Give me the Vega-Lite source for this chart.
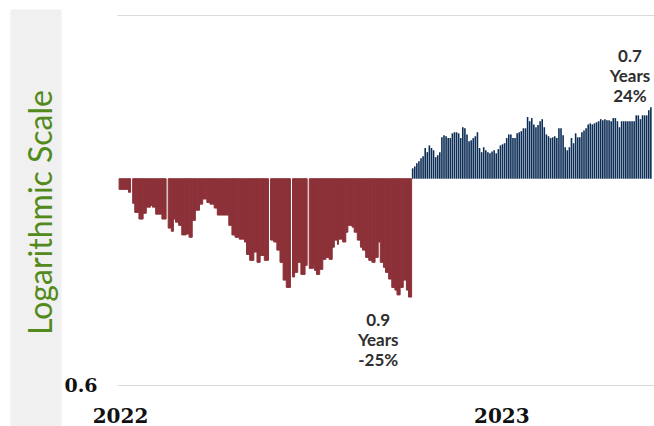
{
  "$schema": "https://vega.github.io/schema/vega-lite/v6.json",
  "width": 537,
  "height": 370,
  "autosize": {"type": "none"},
  "padding": {"left": 117, "top": 15, "right": 0, "bottom": 41},
  "background": "white",
  "config": {"view": {"stroke": null}},
  "datasets": {
    "panel": [{"start": "2021-09-21T00:00", "end": "2021-11-09T00:00", "low": 0.542, "high": 1.521}],
    "bear": [
      {"start": "2022-01-03T00:00", "end": "2022-01-12T00:00", "value": 0.974},
      {"start": "2022-01-12T00:00", "end": "2022-01-14T00:00", "value": 0.967},
      {"start": "2022-01-16T00:00", "end": "2022-01-18T00:00", "value": 0.941},
      {"start": "2022-01-18T00:00", "end": "2022-01-22T00:00", "value": 0.920},
      {"start": "2022-01-22T00:00", "end": "2022-01-26T00:00", "value": 0.905},
      {"start": "2022-01-26T00:00", "end": "2022-01-29T00:00", "value": 0.918},
      {"start": "2022-01-29T00:00", "end": "2022-02-02T00:00", "value": 0.932},
      {"start": "2022-02-02T00:00", "end": "2022-02-04T00:00", "value": 0.936},
      {"start": "2022-02-04T00:00", "end": "2022-02-07T00:00", "value": 0.932},
      {"start": "2022-02-07T00:00", "end": "2022-02-13T00:00", "value": 0.916},
      {"start": "2022-02-13T00:00", "end": "2022-02-17T00:00", "value": 0.905},
      {"start": "2022-02-19T00:00", "end": "2022-02-22T00:00", "value": 0.885},
      {"start": "2022-02-22T00:00", "end": "2022-02-24T00:00", "value": 0.878},
      {"start": "2022-02-24T00:00", "end": "2022-02-26T00:00", "value": 0.905},
      {"start": "2022-02-26T00:00", "end": "2022-03-01T00:00", "value": 0.898},
      {"start": "2022-03-01T00:00", "end": "2022-03-04T00:00", "value": 0.891},
      {"start": "2022-03-04T00:00", "end": "2022-03-08T00:00", "value": 0.870},
      {"start": "2022-03-08T00:00", "end": "2022-03-11T00:00", "value": 0.872},
      {"start": "2022-03-11T00:00", "end": "2022-03-14T00:00", "value": 0.865},
      {"start": "2022-03-14T00:00", "end": "2022-03-17T00:00", "value": 0.902},
      {"start": "2022-03-17T00:00", "end": "2022-03-21T00:00", "value": 0.925},
      {"start": "2022-03-21T00:00", "end": "2022-03-24T00:00", "value": 0.939},
      {"start": "2022-03-24T00:00", "end": "2022-03-28T00:00", "value": 0.951},
      {"start": "2022-03-28T00:00", "end": "2022-03-31T00:00", "value": 0.943},
      {"start": "2022-03-31T00:00", "end": "2022-04-04T00:00", "value": 0.939},
      {"start": "2022-04-04T00:00", "end": "2022-04-07T00:00", "value": 0.930},
      {"start": "2022-04-07T00:00", "end": "2022-04-18T00:00", "value": 0.914},
      {"start": "2022-04-18T00:00", "end": "2022-04-21T00:00", "value": 0.891},
      {"start": "2022-04-21T00:00", "end": "2022-04-24T00:00", "value": 0.870},
      {"start": "2022-04-24T00:00", "end": "2022-04-28T00:00", "value": 0.865},
      {"start": "2022-04-28T00:00", "end": "2022-05-03T00:00", "value": 0.861},
      {"start": "2022-05-03T00:00", "end": "2022-05-05T00:00", "value": 0.855},
      {"start": "2022-05-05T00:00", "end": "2022-05-08T00:00", "value": 0.829},
      {"start": "2022-05-08T00:00", "end": "2022-05-12T00:00", "value": 0.817},
      {"start": "2022-05-12T00:00", "end": "2022-05-15T00:00", "value": 0.834},
      {"start": "2022-05-15T00:00", "end": "2022-05-18T00:00", "value": 0.813},
      {"start": "2022-05-18T00:00", "end": "2022-05-22T00:00", "value": 0.827},
      {"start": "2022-05-22T00:00", "end": "2022-05-26T00:00", "value": 0.817},
      {"start": "2022-05-28T00:00", "end": "2022-05-31T00:00", "value": 0.859},
      {"start": "2022-05-31T00:00", "end": "2022-06-03T00:00", "value": 0.855},
      {"start": "2022-06-03T00:00", "end": "2022-06-06T00:00", "value": 0.838},
      {"start": "2022-06-06T00:00", "end": "2022-06-09T00:00", "value": 0.813},
      {"start": "2022-06-09T00:00", "end": "2022-06-12T00:00", "value": 0.778},
      {"start": "2022-06-12T00:00", "end": "2022-06-16T00:00", "value": 0.764},
      {"start": "2022-06-18T00:00", "end": "2022-06-20T00:00", "value": 0.784},
      {"start": "2022-06-20T00:00", "end": "2022-06-23T00:00", "value": 0.793},
      {"start": "2022-06-23T00:00", "end": "2022-06-26T00:00", "value": 0.813},
      {"start": "2022-06-26T00:00", "end": "2022-06-30T00:00", "value": 0.789},
      {"start": "2022-06-30T00:00", "end": "2022-07-02T00:00", "value": 0.807},
      {"start": "2022-07-04T00:00", "end": "2022-07-08T00:00", "value": 0.801},
      {"start": "2022-07-08T00:00", "end": "2022-07-09T00:00", "value": 0.809},
      {"start": "2022-07-09T00:00", "end": "2022-07-11T00:00", "value": 0.797},
      {"start": "2022-07-11T00:00", "end": "2022-07-14T00:00", "value": 0.789},
      {"start": "2022-07-14T00:00", "end": "2022-07-17T00:00", "value": 0.799},
      {"start": "2022-07-17T00:00", "end": "2022-07-20T00:00", "value": 0.819},
      {"start": "2022-07-20T00:00", "end": "2022-07-23T00:00", "value": 0.823},
      {"start": "2022-07-23T00:00", "end": "2022-07-26T00:00", "value": 0.819},
      {"start": "2022-07-26T00:00", "end": "2022-07-28T00:00", "value": 0.844},
      {"start": "2022-07-28T00:00", "end": "2022-07-31T00:00", "value": 0.859},
      {"start": "2022-07-31T00:00", "end": "2022-08-01T00:00", "value": 0.850},
      {"start": "2022-08-01T00:00", "end": "2022-08-05T00:00", "value": 0.861},
      {"start": "2022-08-05T00:00", "end": "2022-08-08T00:00", "value": 0.855},
      {"start": "2022-08-08T00:00", "end": "2022-08-10T00:00", "value": 0.876},
      {"start": "2022-08-10T00:00", "end": "2022-08-14T00:00", "value": 0.891},
      {"start": "2022-08-14T00:00", "end": "2022-08-16T00:00", "value": 0.887},
      {"start": "2022-08-16T00:00", "end": "2022-08-19T00:00", "value": 0.876},
      {"start": "2022-08-19T00:00", "end": "2022-08-22T00:00", "value": 0.859},
      {"start": "2022-08-22T00:00", "end": "2022-08-24T00:00", "value": 0.844},
      {"start": "2022-08-24T00:00", "end": "2022-08-27T00:00", "value": 0.838},
      {"start": "2022-08-27T00:00", "end": "2022-08-30T00:00", "value": 0.823},
      {"start": "2022-08-30T00:00", "end": "2022-09-02T00:00", "value": 0.817},
      {"start": "2022-09-02T00:00", "end": "2022-09-05T00:00", "value": 0.813},
      {"start": "2022-09-05T00:00", "end": "2022-09-08T00:00", "value": 0.823},
      {"start": "2022-09-08T00:00", "end": "2022-09-10T00:00", "value": 0.855},
      {"start": "2022-09-10T00:00", "end": "2022-09-13T00:00", "value": 0.813},
      {"start": "2022-09-13T00:00", "end": "2022-09-15T00:00", "value": 0.803},
      {"start": "2022-09-15T00:00", "end": "2022-09-18T00:00", "value": 0.793},
      {"start": "2022-09-18T00:00", "end": "2022-09-21T00:00", "value": 0.780},
      {"start": "2022-09-21T00:00", "end": "2022-09-24T00:00", "value": 0.764},
      {"start": "2022-09-24T00:00", "end": "2022-09-26T00:00", "value": 0.759},
      {"start": "2022-09-26T00:00", "end": "2022-09-29T00:00", "value": 0.750},
      {"start": "2022-09-29T00:00", "end": "2022-10-02T00:00", "value": 0.764},
      {"start": "2022-10-02T00:00", "end": "2022-10-05T00:00", "value": 0.778},
      {"start": "2022-10-05T00:00", "end": "2022-10-07T00:00", "value": 0.759},
      {"start": "2022-10-07T00:00", "end": "2022-10-10T00:00", "value": 0.746}
    ],
    "bull": [
      {"date": "2022-10-11T00:00", "value": 1.026},
      {"date": "2022-10-13T00:00", "value": 1.031},
      {"date": "2022-10-15T00:00", "value": 1.039},
      {"date": "2022-10-17T00:00", "value": 1.044},
      {"date": "2022-10-19T00:00", "value": 1.052},
      {"date": "2022-10-21T00:00", "value": 1.057},
      {"date": "2022-10-23T00:00", "value": 1.079},
      {"date": "2022-10-25T00:00", "value": 1.068},
      {"date": "2022-10-27T00:00", "value": 1.086},
      {"date": "2022-10-29T00:00", "value": 1.079},
      {"date": "2022-10-31T00:00", "value": 1.073},
      {"date": "2022-11-02T00:00", "value": 1.055},
      {"date": "2022-11-04T00:00", "value": 1.060},
      {"date": "2022-11-06T00:00", "value": 1.068},
      {"date": "2022-11-08T00:00", "value": 1.108},
      {"date": "2022-11-10T00:00", "value": 1.114},
      {"date": "2022-11-12T00:00", "value": 1.111},
      {"date": "2022-11-14T00:00", "value": 1.106},
      {"date": "2022-11-16T00:00", "value": 1.106},
      {"date": "2022-11-18T00:00", "value": 1.119},
      {"date": "2022-11-20T00:00", "value": 1.122},
      {"date": "2022-11-22T00:00", "value": 1.122},
      {"date": "2022-11-24T00:00", "value": 1.119},
      {"date": "2022-11-26T00:00", "value": 1.106},
      {"date": "2022-11-28T00:00", "value": 1.136},
      {"date": "2022-11-30T00:00", "value": 1.133},
      {"date": "2022-12-02T00:00", "value": 1.116},
      {"date": "2022-12-04T00:00", "value": 1.097},
      {"date": "2022-12-06T00:00", "value": 1.100},
      {"date": "2022-12-08T00:00", "value": 1.106},
      {"date": "2022-12-10T00:00", "value": 1.111},
      {"date": "2022-12-12T00:00", "value": 1.122},
      {"date": "2022-12-14T00:00", "value": 1.079},
      {"date": "2022-12-16T00:00", "value": 1.068},
      {"date": "2022-12-18T00:00", "value": 1.081},
      {"date": "2022-12-20T00:00", "value": 1.073},
      {"date": "2022-12-22T00:00", "value": 1.068},
      {"date": "2022-12-24T00:00", "value": 1.065},
      {"date": "2022-12-26T00:00", "value": 1.070},
      {"date": "2022-12-28T00:00", "value": 1.073},
      {"date": "2022-12-30T00:00", "value": 1.065},
      {"date": "2023-01-01T00:00", "value": 1.076},
      {"date": "2023-01-03T00:00", "value": 1.086},
      {"date": "2023-01-05T00:00", "value": 1.089},
      {"date": "2023-01-07T00:00", "value": 1.092},
      {"date": "2023-01-09T00:00", "value": 1.106},
      {"date": "2023-01-11T00:00", "value": 1.116},
      {"date": "2023-01-13T00:00", "value": 1.116},
      {"date": "2023-01-15T00:00", "value": 1.106},
      {"date": "2023-01-17T00:00", "value": 1.106},
      {"date": "2023-01-19T00:00", "value": 1.119},
      {"date": "2023-01-21T00:00", "value": 1.122},
      {"date": "2023-01-23T00:00", "value": 1.125},
      {"date": "2023-01-25T00:00", "value": 1.133},
      {"date": "2023-01-27T00:00", "value": 1.133},
      {"date": "2023-01-29T00:00", "value": 1.165},
      {"date": "2023-01-31T00:00", "value": 1.153},
      {"date": "2023-02-02T00:00", "value": 1.162},
      {"date": "2023-02-04T00:00", "value": 1.144},
      {"date": "2023-02-06T00:00", "value": 1.136},
      {"date": "2023-02-08T00:00", "value": 1.142},
      {"date": "2023-02-10T00:00", "value": 1.153},
      {"date": "2023-02-12T00:00", "value": 1.159},
      {"date": "2023-02-14T00:00", "value": 1.136},
      {"date": "2023-02-16T00:00", "value": 1.116},
      {"date": "2023-02-18T00:00", "value": 1.111},
      {"date": "2023-02-20T00:00", "value": 1.106},
      {"date": "2023-02-22T00:00", "value": 1.108},
      {"date": "2023-02-24T00:00", "value": 1.111},
      {"date": "2023-02-26T00:00", "value": 1.106},
      {"date": "2023-02-28T00:00", "value": 1.133},
      {"date": "2023-03-02T00:00", "value": 1.133},
      {"date": "2023-03-04T00:00", "value": 1.114},
      {"date": "2023-03-06T00:00", "value": 1.081},
      {"date": "2023-03-08T00:00", "value": 1.073},
      {"date": "2023-03-10T00:00", "value": 1.081},
      {"date": "2023-03-12T00:00", "value": 1.106},
      {"date": "2023-03-14T00:00", "value": 1.092},
      {"date": "2023-03-16T00:00", "value": 1.119},
      {"date": "2023-03-18T00:00", "value": 1.108},
      {"date": "2023-03-20T00:00", "value": 1.108},
      {"date": "2023-03-22T00:00", "value": 1.122},
      {"date": "2023-03-24T00:00", "value": 1.127},
      {"date": "2023-03-26T00:00", "value": 1.133},
      {"date": "2023-03-28T00:00", "value": 1.144},
      {"date": "2023-03-30T00:00", "value": 1.147},
      {"date": "2023-04-01T00:00", "value": 1.144},
      {"date": "2023-04-03T00:00", "value": 1.147},
      {"date": "2023-04-05T00:00", "value": 1.150},
      {"date": "2023-04-07T00:00", "value": 1.153},
      {"date": "2023-04-09T00:00", "value": 1.159},
      {"date": "2023-04-11T00:00", "value": 1.156},
      {"date": "2023-04-13T00:00", "value": 1.159},
      {"date": "2023-04-15T00:00", "value": 1.156},
      {"date": "2023-04-17T00:00", "value": 1.156},
      {"date": "2023-04-19T00:00", "value": 1.153},
      {"date": "2023-04-21T00:00", "value": 1.162},
      {"date": "2023-04-23T00:00", "value": 1.162},
      {"date": "2023-04-25T00:00", "value": 1.153},
      {"date": "2023-04-27T00:00", "value": 1.136},
      {"date": "2023-04-29T00:00", "value": 1.153},
      {"date": "2023-05-01T00:00", "value": 1.153},
      {"date": "2023-05-03T00:00", "value": 1.153},
      {"date": "2023-05-05T00:00", "value": 1.153},
      {"date": "2023-05-07T00:00", "value": 1.153},
      {"date": "2023-05-09T00:00", "value": 1.153},
      {"date": "2023-05-11T00:00", "value": 1.153},
      {"date": "2023-05-13T00:00", "value": 1.170},
      {"date": "2023-05-15T00:00", "value": 1.170},
      {"date": "2023-05-17T00:00", "value": 1.159},
      {"date": "2023-05-19T00:00", "value": 1.170},
      {"date": "2023-05-21T00:00", "value": 1.170},
      {"date": "2023-05-23T00:00", "value": 1.170},
      {"date": "2023-05-25T00:00", "value": 1.185},
      {"date": "2023-05-27T00:00", "value": 1.194}
    ],
    "notes": [
      {"date": "2022-09-08T00:00", "value": 0.717, "label": "0.9\nYears\n-25%"},
      {"date": "2023-05-07T00:00", "value": 1.379, "label": "0.7\nYears\n24%"}
    ]
  },
  "layer": [
    {
      "data": {"name": "panel"},
      "mark": {"type": "rect", "color": "#f0f0f0", "clip": false},
      "encoding": {
        "x": {"field": "start", "type": "temporal",
          "scale": {"domain": [{"year": 2022, "month": 1, "date": 1}, {"year": 2023, "month": 5, "date": 30}], "nice": false, "padding": 0},
          "axis": {"title": null, "values": [{"year": 2022, "month": 1, "date": 1}, {"year": 2023, "month": 1, "date": 1}],
            "format": "%Y", "grid": false, "domain": false, "ticks": false, "labelFlush": false, "labelOffset": 3,
            "labelPadding": 21, "labelFont": "DejaVu Serif", "labelFontWeight": "bold", "labelFontSize": 20, "labelColor": "#111111"}},
        "x2": {"field": "end"},
        "y": {"field": "high", "type": "quantitative",
          "scale": {"type": "log", "domain": [0.6, 1.5], "nice": false, "zero": false},
          "axis": {"title": "Logarithmic Scale", "values": [0.6, 1.5], "labelExpr": "datum.value < 1 ? '0.6' : ''",
            "grid": true, "gridColor": "#dadada", "gridWidth": 1, "domain": false, "ticks": false, "zindex": 1,
            "labelPadding": 20, "labelFont": "DejaVu Serif", "labelFontWeight": "bold", "labelFontSize": 19, "labelColor": "#111111",
            "titleFont": "Lato", "titleFontWeight": "normal", "titleFontSize": 32, "titleColor": "#528a1c",
            "titleX": -76, "titleY": 197, "titleAngle": -90, "titleAlign": "center", "titleBaseline": "middle"}},
        "y2": {"field": "low"}
      }
    },
    {
      "data": {"name": "bear"},
      "mark": {"type": "bar", "color": "#8c3138", "stroke": "#8c3138", "strokeWidth": 1},
      "encoding": {
        "x": {"field": "start", "type": "temporal"},
        "x2": {"field": "end"},
        "y": {"field": "value", "type": "quantitative"},
        "y2": {"datum": 1}
      }
    },
    {
      "data": {"name": "bull"},
      "mark": {"type": "bar", "color": "#0c2d56", "size": 1.6},
      "encoding": {
        "x": {"field": "date", "type": "temporal"},
        "y": {"field": "value", "type": "quantitative"},
        "y2": {"datum": 1}
      }
    },
    {
      "data": {"name": "notes"},
      "mark": {"type": "text", "font": "Lato", "fontWeight": "bold", "fontSize": 17, "color": "#2e2e2e",
        "align": "center", "baseline": "top", "lineBreak": "\n", "lineHeight": 20},
      "encoding": {
        "x": {"field": "date", "type": "temporal"},
        "y": {"field": "value", "type": "quantitative"},
        "text": {"field": "label"}
      }
    }
  ]
}
